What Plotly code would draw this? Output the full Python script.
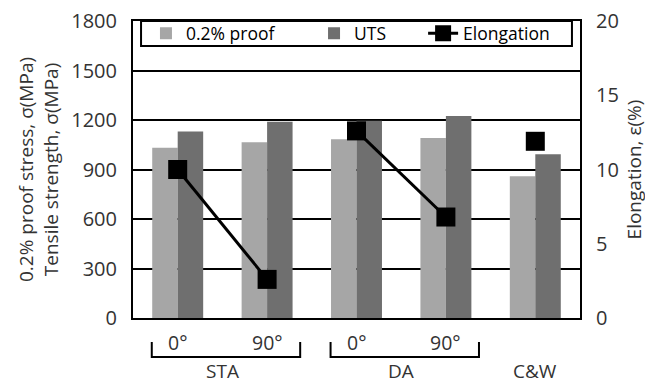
import plotly.graph_objects as go

categories = ["STA 0°", "STA 90°", "DA 0°", "DA 90°", "C&W"]
orient_labels = ["0°", "90°", "0°", "90°", ""]
groups = ["STA", "STA", "DA", "DA", "C&W"]
proof = [1032, 1065, 1083, 1091, 859]
uts = [1131, 1190, 1195, 1224, 992]
elong = [10.0, 2.6, 12.6, 6.8, 11.9]
group_names = ["STA", "DA", "C&W"]

FONT = "Open Sans"
TXT = "#333333"

fig = go.Figure()
fig.add_trace(go.Bar(x=categories, y=proof, name="0.2% proof", legend="legend",
                     marker=dict(color="#a6a6a6", line=dict(width=0))))
fig.add_trace(go.Bar(x=categories, y=uts, name="UTS", legend="legend2",
                     marker=dict(color="#6f6f6f", line=dict(width=0))))

for gi, g in enumerate(group_names):
    xs = [c for c, gg in zip(categories, groups) if gg == g]
    ys = [e for e, gg in zip(elong, groups) if gg == g]
    fig.add_trace(go.Scatter(
        x=xs, y=ys, yaxis="y2", mode="lines+markers", name="Elongation",
        showlegend=(gi == 0), legendgroup="el", legend="legend3",
        line=dict(color="black", width=3),
        marker=dict(symbol="square", size=19, color="black"),
    ))

# x labels
for c, lab in zip(categories, orient_labels):
    if lab:
        fig.add_annotation(x=c, y=-0.081, xref="x", yref="paper", text=lab, showarrow=False,
                           font=dict(size=19.5, color=TXT, family=FONT), yanchor="middle")
for g in group_names:
    idx = [i for i, gg in enumerate(groups) if gg == g]
    center = (idx[0] + idx[-1]) / 2
    fig.add_annotation(x=center, y=-0.18, xref="x", yref="paper", text=g, showarrow=False,
                       font=dict(size=19, color=TXT, family=FONT), yanchor="middle")
    if len(idx) > 1:
        x0, x1 = idx[0] - 0.29, idx[-1] + 0.37
        fig.add_shape(type="path", xref="x", yref="paper",
                      path=f"M {x0} -0.081 L {x0} -0.131 L {x1} -0.131 L {x1} -0.081",
                      line=dict(color="black", width=2))

# legend frame
fig.add_shape(type="rect", xref="paper", yref="paper", x0=0.018, x1=0.982, y0=0.916, y1=1.0,
              fillcolor="white", line=dict(color="black", width=2), layer="above")

leg_common = dict(orientation="h", xanchor="left", y=0.958, yanchor="middle",
                  bgcolor="rgba(0,0,0,0)", borderwidth=0,
                  font=dict(size=17.5, color="black", family=FONT))

fig.update_layout(
    width=645, height=377,
    margin=dict(l=125, r=73, t=13, b=67, autoexpand=False),
    paper_bgcolor="white", plot_bgcolor="white",
    barmode="group", bargap=0.43, bargroupgap=0,
    font=dict(family=FONT, color=TXT),
    showlegend=True,
    legend=dict(x=0.029, **leg_common),
    legend2=dict(x=0.405, **leg_common),
    legend3=dict(x=0.649, **leg_common),
    xaxis=dict(showticklabels=False, showline=True, linecolor="black", linewidth=2,
               mirror=True, ticks="", showgrid=False, fixedrange=True, automargin=False),
    yaxis=dict(range=[0, 1800], tickvals=[0, 300, 600, 900, 1200, 1500, 1800],
               showgrid=True, gridcolor="black", gridwidth=2, showline=True,
               linecolor="black", linewidth=2, ticks="", ticklabelstandoff=10,
               ticklabeloverflow="allow", automargin=False,
               tickfont=dict(size=20, color=TXT, family=FONT), zeroline=False,
               title=dict(text="0.2% proof stress, σ(MPa)<br>Tensile strength, σ(MPa)",
                          font=dict(size=19, color=TXT, family=FONT), standoff=8)),
    yaxis2=dict(range=[0, 20], tickvals=[0, 5, 10, 15, 20], overlaying="y", side="right",
                showgrid=False, showline=True, linecolor="black", linewidth=2, ticks="",
                ticklabelstandoff=10, zeroline=False, ticklabeloverflow="allow",
                automargin=False,
                tickfont=dict(size=20, color=TXT, family=FONT),
                title=dict(text="Elongation, ε(%)", font=dict(size=19, color=TXT, family=FONT), standoff=10)),
)

fig.write_html("out.html")
